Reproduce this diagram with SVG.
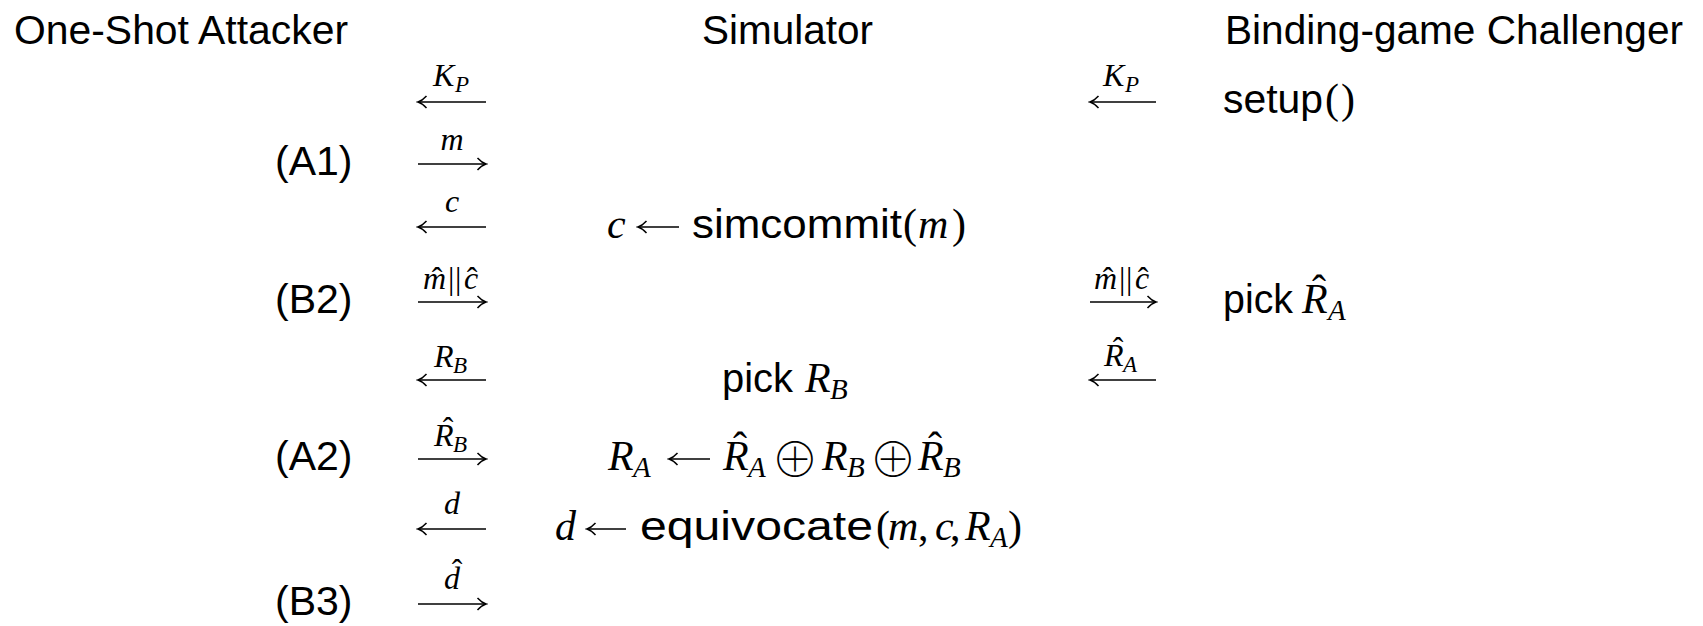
<svg xmlns="http://www.w3.org/2000/svg" width="1703" height="626" viewBox="0 0 1703 626">
<style>
text { fill: #000; }
.t { font-family: "Liberation Sans", Arial, sans-serif; font-size: 41px; }
.ms { font-family: "Liberation Sans", Arial, sans-serif; font-size: 41px; }
.mi { font-family: "Liberation Serif", "Times New Roman", serif; font-style: italic; font-size: 42px; }
.mr { font-family: "Liberation Serif", "Times New Roman", serif; font-size: 42px; }
.op { font-family: "Noto Sans CJK JP", "DejaVu Sans", sans-serif; font-weight: 100; font-size: 48px; text-anchor: middle; }
.sub { font-family: "Liberation Serif", "Times New Roman", serif; font-style: italic; font-size: 29px; }
.hat { font-family: "Liberation Serif", "Times New Roman", serif; font-size: 42px; text-anchor: middle; }
.li { font-family: "Liberation Serif", "Times New Roman", serif; font-style: italic; font-size: 32px; }
.ls { font-family: "Liberation Serif", "Times New Roman", serif; font-style: italic; font-size: 23px; }
.lr { font-family: "Liberation Serif", "Times New Roman", serif; font-size: 32px; }
.lh { font-family: "Liberation Serif", "Times New Roman", serif; font-size: 32px; text-anchor: middle; }
.c { text-anchor: middle; }
.arr { stroke: #000; stroke-width: 1.6; fill: none; marker-end: url(#ah); }
</style>
<defs>
<marker id="ah" viewBox="-10 -7 12 14" markerWidth="12" markerHeight="14" refX="0" refY="0" orient="auto" markerUnits="userSpaceOnUse">
<path d="M-8.5,-6 C-5,-2.2 -2,-0.6 0,0 C-2,0.6 -5,2.2 -8.5,6" fill="none" stroke="#000" stroke-width="1.5"/>
</marker>
</defs>

<g id="title-attacker"><text class="t" x="14" y="44" textLength="334" lengthAdjust="spacingAndGlyphs">One-Shot Attacker</text></g>
<g id="title-simulator"><text class="t" x="702" y="44" textLength="171" lengthAdjust="spacingAndGlyphs">Simulator</text></g>
<g id="title-challenger"><text class="t" x="1225" y="44" textLength="458" lengthAdjust="spacingAndGlyphs">Binding-game Challenger</text></g>

<g id="step-A1"><text class="t" x="275" y="175">(A1)</text></g>
<g id="step-B2"><text class="t" x="275" y="313">(B2)</text></g>
<g id="step-A2"><text class="t" x="275" y="470">(A2)</text></g>
<g id="step-B3"><text class="t" x="275" y="615">(B3)</text></g>

<g id="sim-commit">
<text class="mi" x="607" y="238">c</text>
<line class="arr" x1="679" y1="227" x2="638" y2="227"/>
<text class="ms" x="692" y="238" textLength="210" lengthAdjust="spacingAndGlyphs">simcommit</text>
<text class="mr" x="903" y="238">(</text>
<text class="mi" x="918" y="238">m</text>
<text class="mr" x="952" y="238">)</text>
</g>

<g id="sim-pick">
<text class="ms" x="722" y="392" textLength="71" lengthAdjust="spacingAndGlyphs">pick</text>
<text class="mi" x="805" y="392">R</text>
<text class="sub" x="830" y="399">B</text>
</g>

<g id="sim-xor">
<text class="mi" x="608" y="470">R</text>
<text class="sub" x="633" y="477">A</text>
<line class="arr" x1="710" y1="459" x2="669" y2="459"/>
<text class="hat" x="740" y="461">ˆ</text>
<text class="mi" x="723" y="470">R</text>
<text class="sub" x="748" y="477">A</text>
<text class="op" x="795" y="477">⊕</text>
<text class="mi" x="822" y="470">R</text>
<text class="sub" x="847" y="477">B</text>
<text class="op" x="893" y="477">⊕</text>
<text class="hat" x="935" y="461">ˆ</text>
<text class="mi" x="918" y="470">R</text>
<text class="sub" x="943" y="477">B</text>
</g>

<g id="sim-equivocate">
<text class="mi" x="555" y="540">d</text>
<line class="arr" x1="626" y1="529" x2="587" y2="529"/>
<text class="ms" x="640" y="540" textLength="233" lengthAdjust="spacingAndGlyphs">equivocate</text>
<text class="mr" x="876" y="540">(</text>
<text class="mi" x="888" y="540">m</text>
<text class="mr" x="918" y="540">,</text>
<text class="mi" x="935" y="540">c</text>
<text class="mr" x="950" y="540">,</text>
<text class="mi" x="965" y="540">R</text>
<text class="sub" x="990" y="547">A</text>
<text class="mr" x="1008" y="540">)</text>
</g>

<g id="chal-setup">
<text class="ms" x="1223" y="113" textLength="100" lengthAdjust="spacingAndGlyphs">setup</text>
<text class="mr" x="1325" y="113">(</text>
<text class="mr" x="1341" y="113">)</text>
</g>

<g id="chal-pick">
<text class="ms" x="1223" y="313" textLength="70" lengthAdjust="spacingAndGlyphs">pick</text>
<text class="hat" x="1319" y="304">ˆ</text>
<text class="mi" x="1302" y="313">R</text>
<text class="sub" x="1328" y="320">A</text>
</g>

<g id="connectors">
<line class="arr" x1="486" y1="102" x2="418" y2="102"/>
<text class="li" x="433" y="86">K</text><text class="ls" x="455" y="92">P</text>
<line class="arr" x1="418" y1="164" x2="486" y2="164"/>
<text class="li c" x="452" y="150">m</text>
<line class="arr" x1="486" y1="227" x2="418" y2="227"/>
<text class="li c" x="452" y="212">c</text>
<line class="arr" x1="418" y1="302" x2="486" y2="302"/>
<text class="li" x="423" y="289">m</text><text class="lr" x="448" y="289">|</text><text class="lr" x="455" y="289">|</text><text class="li" x="464" y="289">c</text>
<text class="lh" x="437" y="289">ˆ</text><text class="lh" x="472" y="289">ˆ</text>
<line class="arr" x1="486" y1="380" x2="418" y2="380"/>
<text class="li" x="434" y="367">R</text><text class="ls" x="453" y="373">B</text>
<line class="arr" x1="418" y1="459" x2="486" y2="459"/>
<text class="li" x="434" y="446">R</text><text class="ls" x="453" y="452">B</text>
<text class="lh" x="448" y="439">ˆ</text>
<line class="arr" x1="486" y1="529" x2="418" y2="529"/>
<text class="li c" x="452" y="514">d</text>
<line class="arr" x1="418" y1="604" x2="486" y2="604"/>
<text class="li c" x="452" y="589">d</text>
<text class="lh" x="457" y="581">ˆ</text>

<line class="arr" x1="1156" y1="102" x2="1090" y2="102"/>
<text class="li" x="1103" y="86">K</text><text class="ls" x="1125" y="92">P</text>
<line class="arr" x1="1090" y1="302" x2="1156" y2="302"/>
<text class="li" x="1094" y="289">m</text><text class="lr" x="1119" y="289">|</text><text class="lr" x="1126" y="289">|</text><text class="li" x="1135" y="289">c</text>
<text class="lh" x="1108" y="289">ˆ</text><text class="lh" x="1143" y="289">ˆ</text>
<line class="arr" x1="1156" y1="380" x2="1090" y2="380"/>
<text class="li" x="1104" y="366">R</text><text class="ls" x="1123" y="372">A</text>
<text class="lh" x="1118" y="359">ˆ</text>
</g>
</svg>
